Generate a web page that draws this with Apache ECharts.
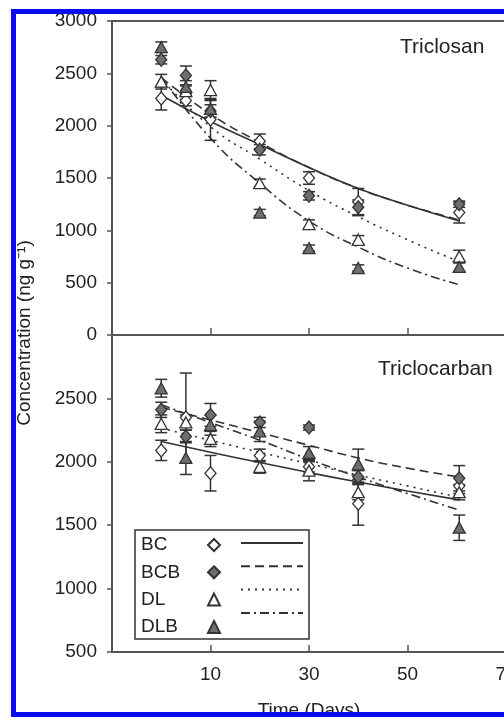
<!DOCTYPE html>
<html>
<head>
<meta charset="utf-8">
<script src="https://cdn.jsdelivr.net/npm/echarts/dist/echarts.min.js"></script>
<style>
html, body { margin: 0; padding: 0; background: #fff; }
#main { width: 504px; height: 717px; }
</style>
</head>
<body>
<div id="main"></div>
<script>
// sampling days (last sampling sits a bit past day 60 on the plot)
var days = [0, 5, 10, 20, 30, 40, 60.5];
var fitDays = [0, 10, 20, 30, 40, 50, 60.5];
var treatments = ['BC', 'BCB', 'DL', 'DLB'];

// Triclosan (top panel) - means and error
var tcsBC = [2260, 2240, 2060, 1850, 1500, 1270, 1170];
var tcsBCerr = [110, 50, 200, 70, 60, 130, 100];
var tcsBCB = [2630, 2480, 2140, 1770, 1330, 1220, 1250];
var tcsBCBerr = [40, 90, 60, 50, 40, 70, 30];
var tcsDL = [2420, 2330, 2340, 1450, 1060, 910, 750];
var tcsDLerr = [70, 50, 90, 40, 40, 40, 60];
var tcsDLB = [2750, 2370, 2160, 1170, 830, 640, 650];
var tcsDLBerr = [50, 60, 80, 30, 30, 30, 40];

// Triclosan fitted curves
var tcsBCfit = [2290, 2040, 1820, 1600, 1400, 1240, 1090];
var tcsBCBfit = [2460, 2110, 1840, 1600, 1400, 1240, 1100];
var tcsDLfit = [2450, 1990, 1680, 1380, 1130, 910, 700];
var tcsDLBfit = [2470, 1880, 1450, 1090, 840, 640, 480];

// Triclocarban (bottom panel)
var tccBC = [2090, 2350, 1910, 2050, 1960, 1670, 1810];
var tccBCerr = [80, 350, 140, 50, 40, 170, 60];
var tccBCB = [2410, 2200, 2370, 2310, 2270, 1880, 1870];
var tccBCBerr = [60, 50, 90, 40, 20, 50, 100];
var tccDL = [2300, 2310, 2180, 1960, 1930, 1760, 1760];
var tccDLerr = [70, 60, 60, 50, 80, 60, 60];
var tccDLB = [2580, 2030, 2290, 2240, 2070, 1980, 1480];
var tccDLBerr = [70, 130, 80, 80, 50, 120, 100];

var tccBCfit = [2160, 2075, 1995, 1915, 1840, 1770, 1700];
var tccBCBfit = [2430, 2330, 2230, 2130, 2030, 1950, 1880];
var tccDLfit = [2265, 2170, 2075, 1985, 1895, 1810, 1720];
var tccDLBfit = [2450, 2310, 2170, 2020, 1880, 1750, 1620];

var FONT = "'Liberation Sans', Arial, sans-serif";
var INK = '#333';
var GREY = '#6e6e6e';

var symbols = {
    BC: { symbol: 'diamond', fill: '#fff', size: [11, 13] },
    BCB: { symbol: 'diamond', fill: GREY, size: [11, 13] },
    DL: { symbol: 'triangle', fill: '#fff', size: [12, 11] },
    DLB: { symbol: 'triangle', fill: GREY, size: [12, 11] }
};
var dashes = {
    BC: 'solid',
    BCB: [9, 5],
    DL: [2, 5],
    DLB: [9, 4, 2, 4]
};

function pairs(xs, ys) {
    var out = [];
    for (var i = 0; i < xs.length; i++) {
        out.push([xs[i], ys[i]]);
    }
    return out;
}

function plain(v) {
    return String(v);
}

function fitSeries(name, idx, values) {
    return {
        name: name + ' fit',
        type: 'line',
        xAxisIndex: idx,
        yAxisIndex: idx,
        data: pairs(fitDays, values),
        smooth: true,
        symbol: 'none',
        silent: true,
        z: 2,
        itemStyle: { color: INK },
        lineStyle: { color: INK, width: 1.6, type: dashes[name] }
    };
}

function errSeries(idx, means, errs) {
    var data = [];
    for (var i = 0; i < days.length; i++) {
        data.push([days[i], means[i] - errs[i], means[i] + errs[i]]);
    }
    return {
        type: 'custom',
        xAxisIndex: idx,
        yAxisIndex: idx,
        silent: true,
        z: 3,
        data: data,
        encode: { x: 0, y: [1, 2] },
        renderItem: function (params, api) {
            var lo = api.coord([api.value(0), api.value(1)]);
            var hi = api.coord([api.value(0), api.value(2)]);
            var w = 6;
            var st = { stroke: INK, lineWidth: 1.5 };
            return {
                type: 'group',
                children: [
                    { type: 'line', shape: { x1: lo[0], y1: lo[1], x2: hi[0], y2: hi[1] }, style: st },
                    { type: 'line', shape: { x1: lo[0] - w, y1: lo[1], x2: lo[0] + w, y2: lo[1] }, style: st },
                    { type: 'line', shape: { x1: hi[0] - w, y1: hi[1], x2: hi[0] + w, y2: hi[1] }, style: st }
                ]
            };
        }
    };
}

function pointSeries(name, idx, means) {
    var s = symbols[name];
    return {
        name: name,
        type: 'scatter',
        xAxisIndex: idx,
        yAxisIndex: idx,
        data: pairs(days, means),
        symbol: s.symbol,
        symbolSize: s.size,
        z: 4,
        itemStyle: { color: s.fill, borderColor: INK, borderWidth: 1.3, opacity: 1 }
    };
}

function panel(idx, sets) {
    var list = [];
    for (var i = 0; i < treatments.length; i++) {
        list.push(fitSeries(treatments[i], idx, sets[i][2]));
    }
    for (var j = 0; j < treatments.length; j++) {
        list.push(errSeries(idx, sets[j][0], sets[j][1]));
    }
    for (var k = 0; k < treatments.length; k++) {
        list.push(pointSeries(treatments[k], idx, sets[k][0]));
    }
    return list;
}

var series = panel(0, [
    [tcsBC, tcsBCerr, tcsBCfit],
    [tcsBCB, tcsBCBerr, tcsBCBfit],
    [tcsDL, tcsDLerr, tcsDLfit],
    [tcsDLB, tcsDLBerr, tcsDLBfit]
]).concat(panel(1, [
    [tccBC, tccBCerr, tccBCfit],
    [tccBCB, tccBCBerr, tccBCBfit],
    [tccDL, tccDLerr, tccDLfit],
    [tccDLB, tccDLBerr, tccDLBfit]
]));

var axisLine = { show: true, onZero: false, lineStyle: { color: '#555', width: 2 } };
var tickStyle = { color: '#555', width: 1.5 };

var myChart = echarts.init(document.getElementById('main'));
var option = {
    animation: false,
    backgroundColor: '#fff',
    textStyle: { fontFamily: FONT },
    title: [
        { text: 'Triclosan', left: 400, top: 37, padding: 0,
          textStyle: { fontSize: 21, fontWeight: 'normal', color: '#222', fontFamily: FONT } },
        { text: 'Triclocarban', left: 378, top: 359, padding: 0,
          textStyle: { fontSize: 21, fontWeight: 'normal', color: '#222', fontFamily: FONT } }
    ],
    grid: [
        { left: 112, right: -2, top: 21, height: 314, show: true, borderColor: '#555', borderWidth: 2,
          containLabel: false, outerBoundsMode: 'none' },
        { left: 112, right: -2, top: 335, height: 317, containLabel: false, outerBoundsMode: 'none' }
    ],
    xAxis: [
        {
            gridIndex: 0, type: 'value', min: -10, max: 70, interval: 20,
            axisLine: axisLine,
            axisTick: { show: true, inside: true, length: 7, lineStyle: tickStyle },
            axisLabel: { show: false },
            splitLine: { show: false }
        },
        {
            gridIndex: 1, type: 'value', min: -10, max: 70, interval: 20,
            axisLine: axisLine,
            axisTick: { show: true, inside: true, length: 7, lineStyle: tickStyle },
            axisLabel: {
                color: '#222', fontSize: 19, fontFamily: FONT, margin: 13,
                showMinLabel: false, showMaxLabel: true, hideOverlap: false,
                formatter: function (v) { return v < 0 ? '' : String(v); }
            },
            splitLine: { show: false },
            name: 'Time (Days)',
            nameLocation: 'middle',
            nameGap: 49,
            nameTextStyle: { color: '#222', fontSize: 19, fontFamily: FONT }
        }
    ],
    yAxis: [
        {
            gridIndex: 0, type: 'value', min: 0, max: 3000, interval: 500,
            axisLine: axisLine,
            axisTick: { show: true, length: 5, lineStyle: tickStyle },
            axisLabel: { color: '#222', fontSize: 19, fontFamily: FONT, margin: 15,
                showMaxLabel: true, showMinLabel: true, formatter: plain },
            splitLine: { show: false }
        },
        {
            gridIndex: 1, type: 'value', min: 500, max: 3000, interval: 500,
            axisLine: axisLine,
            axisTick: { show: true, length: 5, lineStyle: tickStyle },
            axisLabel: {
                color: '#222', fontSize: 19, fontFamily: FONT, margin: 15, showMinLabel: true,
                formatter: function (v) { return v >= 3000 ? '' : String(v); }
            },
            splitLine: { show: false }
        }
    ],
    legend: [
        {
            // text + marker column, its border makes the legend box
            data: treatments,
            orient: 'vertical',
            align: 'right',
            left: 135,
            top: 530,
            padding: [5, 88, 2, 6],
            itemGap: 7.3,
            itemWidth: 12,
            itemHeight: 12,
            borderColor: INK,
            borderWidth: 1.5,
            selectedMode: false,
            formatter: function (name) { return '{t|' + name + '}'; },
            textStyle: {
                color: '#222', fontSize: 19, fontFamily: FONT, lineHeight: 20,
                rich: { t: { width: 62, align: 'left', fontSize: 19, lineHeight: 20, fontFamily: FONT, color: '#222' } }
            }
        },
        {
            // line-style column
            data: ['BC fit', 'BCB fit', 'DL fit', 'DLB fit'],
            orient: 'vertical',
            left: 240,
            top: 535,
            padding: 0,
            itemGap: 7.3,
            itemWidth: 62,
            itemHeight: 20,
            selectedMode: false,
            itemStyle: { opacity: 0 },
            formatter: function () { return ''; },
            textStyle: { lineHeight: 20, fontSize: 19 }
        }
    ],
    graphic: [
        {
            type: 'text',
            x: 25,
            y: 333,
            rotation: Math.PI / 2,
            style: {
                text: 'Concentration (ng g\u207B\u00B9)',
                fontSize: 19,
                fontFamily: FONT,
                fill: '#222',
                align: 'center',
                verticalAlign: 'middle'
            }
        },
        {
            type: 'rect',
            z: 100,
            shape: { x: 13.5, y: 11.5, width: 600, height: 703 },
            style: { fill: null, stroke: '#0b0bf0', lineWidth: 5 }
        }
    ],
    series: series
};
myChart.setOption(option);
</script>
</body>
</html>
